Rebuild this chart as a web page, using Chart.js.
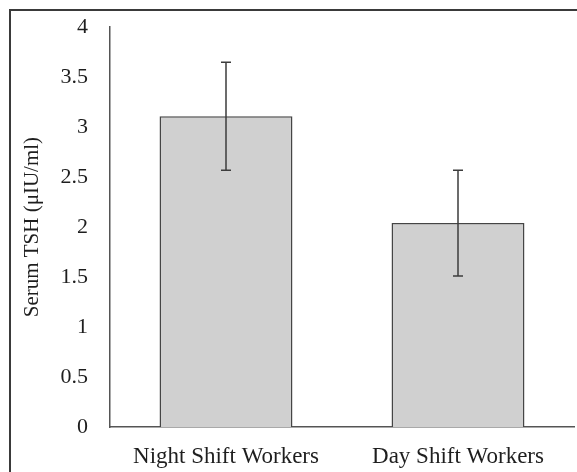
<!DOCTYPE html>
<html>
<head>
<meta charset="utf-8">
<script src="https://cdn.jsdelivr.net/npm/chart.js@4.4.1/dist/chart.umd.min.js"></script>
<style>
  html, body { margin: 0; padding: 0; background: #fff; overflow: hidden; }
  #wrap { position: absolute; left: 0; top: 0; width: 620px; height: 472px; }
</style>
</head>
<body>
<div id="wrap"><canvas id="tshChart" width="620" height="472"></canvas></div>
<script>
// chart data
const groups = ["Night Shift Workers", "Day Shift Workers"];
const tshMeans = [3.11, 2.04];
const tshErrors = [0.54, 0.53];
const yTicks = [0, 0.5, 1, 1.5, 2, 2.5, 3, 3.5, 4];

const serif = "'Liberation Serif', 'DejaVu Serif', serif";

// outer frame (only top and left edges show in the picture)
const framePlugin = {
  id: "frame",
  beforeDraw(chart) {
    const ctx = chart.ctx;
    ctx.save();
    ctx.strokeStyle = "#3a3a3a";
    ctx.lineWidth = 2;
    ctx.strokeRect(10, 10, 800, 800);
    ctx.restore();
  },
};

// simple error bars drawn from the arrays above
const errorBarPlugin = {
  id: "errorBars",
  afterDatasetsDraw(chart) {
    const ctx = chart.ctx;
    const meta = chart.getDatasetMeta(0);
    const y = chart.scales.y;
    ctx.save();
    ctx.strokeStyle = "#3c3c3c";
    ctx.lineWidth = 1.5;
    meta.data.forEach((bar, i) => {
      const x = bar.x;
      const top = y.getPixelForValue(tshMeans[i] + tshErrors[i]);
      const bottom = y.getPixelForValue(tshMeans[i] - tshErrors[i]);
      ctx.beginPath();
      ctx.moveTo(x, top);
      ctx.lineTo(x, bottom);
      ctx.moveTo(x - 5, top);
      ctx.lineTo(x + 5, top);
      ctx.moveTo(x - 5, bottom);
      ctx.lineTo(x + 5, bottom);
      ctx.stroke();
    });
    ctx.restore();
  },
};

const ctx = document.getElementById("tshChart").getContext("2d");
new Chart(ctx, {
  type: "bar",
  data: {
    labels: groups,
    datasets: [
      {
        label: "Serum TSH",
        data: tshMeans,
        backgroundColor: "#d0d0d0",
        borderColor: "#454545",
        borderWidth: 1.5,
        barPercentage: 0.573,
        categoryPercentage: 1,
      },
    ],
  },
  options: {
    responsive: false,
    animation: false,
    layout: {
      padding: { left: 0, right: 46, top: 24, bottom: 0 },
    },
    plugins: {
      legend: { display: false },
      tooltip: { enabled: false },
    },
    scales: {
      x: {
        grid: { display: false },
        border: { display: true, color: "#555", width: 1.5 },
        ticks: {
          color: "#1e1e1e",
          padding: 8,
          font: { family: serif, size: 23 },
        },
        afterFit: (scale) => {
          scale.height = 45;
        },
      },
      y: {
        min: 0,
        max: 4,
        afterBuildTicks: (scale) => {
          scale.ticks = yTicks.map((v) => ({ value: v }));
        },
        grid: { display: false },
        border: { display: true, color: "#555", width: 1.5 },
        ticks: {
          color: "#1e1e1e",
          padding: 14,
          font: { family: serif, size: 22 },
          callback: (value) => String(value),
        },
        title: {
          display: true,
          text: "Serum TSH (μIU/ml)",
          color: "#1e1e1e",
          font: { family: serif, size: 21 },
          padding: { top: 20, bottom: 0 },
        },
        afterFit: (scale) => {
          scale.width = 110;
        },
      },
    },
  },
  plugins: [framePlugin, errorBarPlugin],
});
</script>
</body>
</html>
